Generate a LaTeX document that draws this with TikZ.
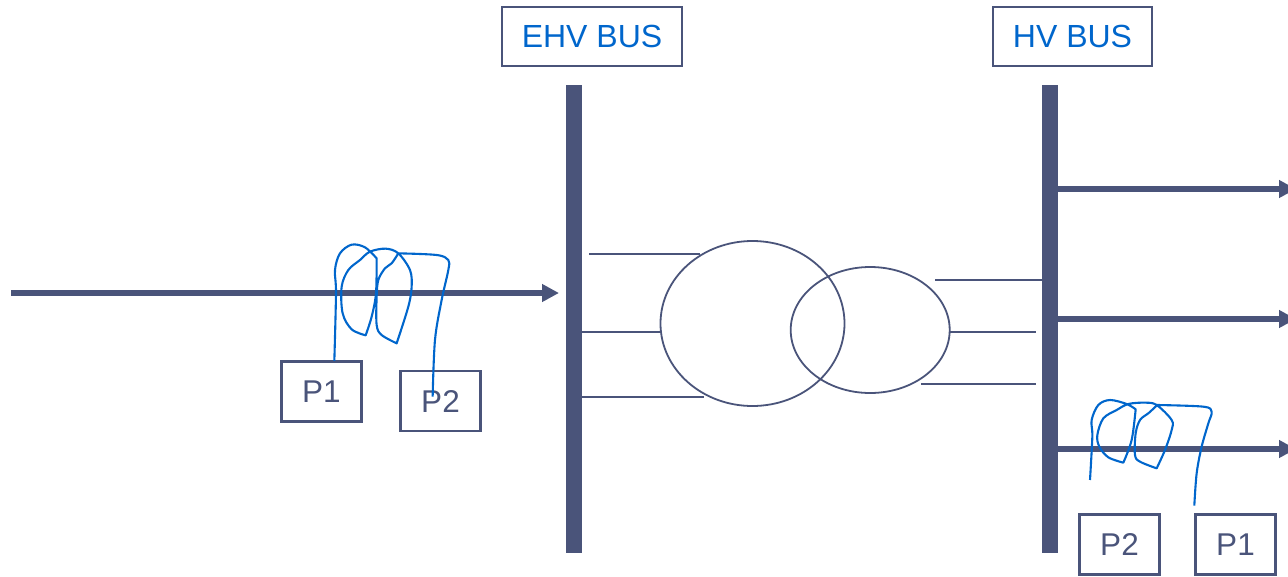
\documentclass[tikz,border=0pt]{standalone}
\usepackage{fontspec}
\setmainfont{Liberation Sans}
\usetikzlibrary{arrows.meta,shapes.geometric}
\definecolor{slate}{RGB}{74,84,122}
\definecolor{coilblue}{RGB}{0,102,204}
\tikzset{
  busbar/.style={fill=slate,draw=none,inner sep=0pt,minimum width=16pt,minimum height=468pt},
  feeder/.style={draw=slate,line width=6pt,-{Triangle[length=17pt,width=17pt]}},
  stub/.style={draw=slate,line width=1.7pt},
  core/.style={ellipse,draw=slate,line width=1.8pt,inner sep=0pt},
  label/.style={draw=slate,line width=1.1pt,inner sep=0pt,text=coilblue,font=\fontsize{32}{38}\selectfont},
  ctbox/.style={draw=slate,line width=2.6pt,inner sep=0pt,minimum width=80pt,minimum height=60pt,text=slate,font=\fontsize{31.5}{36}\selectfont},
  coil/.style={draw=coilblue,line width=2.1pt,line join=round}
}
\begin{document}
\begin{tikzpicture}[x=1pt,y=-1pt]
\useasboundingbox (0,0) rectangle (1288,576);
\clip (0,0) rectangle (1288,576);
\node[busbar] (ehv) at (574,319) {};
\node[busbar] (hv) at (1050.3,319) {};
\node[label,minimum width=180pt,minimum height=59pt] (ehvlabel) at (592,36.5) {EHV BUS\hspace{2pt}};
\node[label,minimum width=159pt,minimum height=59pt] (hvlabel) at (1072.5,36.5) {HV BUS\hspace{2pt}};
\node[core,minimum width=184pt,minimum height=165pt] (big) at (752.5,323.5) {};
\node[core,minimum width=159pt,minimum height=126pt] (small) at (870.2,330) {};
% feeders
\coordinate (in) at (11,293);
\coordinate (intip) at (559,293);
\draw[feeder] (in) -- (intip);
\foreach \n/\y in {a/189,b/319,c/449}{
  \coordinate (out\n) at (1296,\y);
  \draw[feeder] (hv.west |- out\n) ++(16,0) -- (out\n);
}
% winding stubs
\coordinate (s1a) at (589,254); \coordinate (s1b) at (700,254);
\coordinate (s3b) at (704,397);
\coordinate (r1a) at (935,280);
\coordinate (r2b) at (1036,332);
\coordinate (r3a) at (921,384); \coordinate (r3b) at (1036,384);
\draw[stub] (s1a) -- (s1b);
\draw[stub] (ehv.east |- big.west) ++(0,8.5) -- ++(79,0);
\draw[stub] (ehv.east |- s3b) -- (s3b);
\draw[stub] (r1a) -- (hv.west |- r1a);
\draw[stub] (950,332) -- (r2b);
\draw[stub] (r3a) -- (r3b);
% CT boxes
\node[ctbox] (p1l) at (321.3,391.5) {P1\hspace{11pt}};
\node[ctbox] (p2l) at (440.5,401) {P2\hspace{5pt}};
\node[ctbox] (p2r) at (1119.5,544.5) {P2\hspace{3pt}};
\node[ctbox] (p1r) at (1235.5,544.5) {P1\hspace{10pt}};
% left coil (zoom coordinates)
\begin{scope}[shift={(270,230)},x=0.3333pt,y=-0.3333pt]
\draw[coil] plot[smooth,tension=0.55] coordinates {(193,393) (198,190) (195,120) (210,70) (245,44) (285,52) (320,85)}
  -- plot[smooth,tension=0.55] coordinates {(320,85) (318,190) (305,260) (287,316)}
  -- plot[smooth,tension=0.55] coordinates {(287,316) (245,298) (218,250) (215,170) (235,120) (270,90) (300,65) (347,56) (385,70) (420,120) (425,170) (415,230) (380,340)}
  -- plot[smooth,tension=0.55] coordinates {(380,340) (335,315) (320,285) (320,200) (325,150) (345,115) (365,100) (385,70)}
  -- plot[smooth,tension=0.55] coordinates {(385,70) (500,75) (535,90) (535,120) (515,210) (495,330) (488,500)};
\end{scope}
% right coil
\begin{scope}[shift={(1040,380)},x=0.3333pt,y=-0.3333pt]
\draw[coil] plot[smooth,tension=0.55] coordinates {(150,300) (157,170) (155,120) (175,75) (210,60) (260,72) (287,88)}
  -- plot[smooth,tension=0.55] coordinates {(287,88) (275,180) (250,248)}
  -- plot[smooth,tension=0.55] coordinates {(250,248) (205,232) (178,200) (172,165) (190,115) (230,90) (265,72) (315,68) (350,75) (395,120) (395,150) (375,210) (350,265)}
  -- plot[smooth,tension=0.55] coordinates {(350,265) (300,245) (285,225) (287,160) (300,120) (325,100) (352,75)}
  -- plot[smooth,tension=0.55] coordinates {(352,75) (490,80) (515,95) (505,130) (485,200) (470,280) (463,377)};
\end{scope}
\end{tikzpicture}
\end{document}
